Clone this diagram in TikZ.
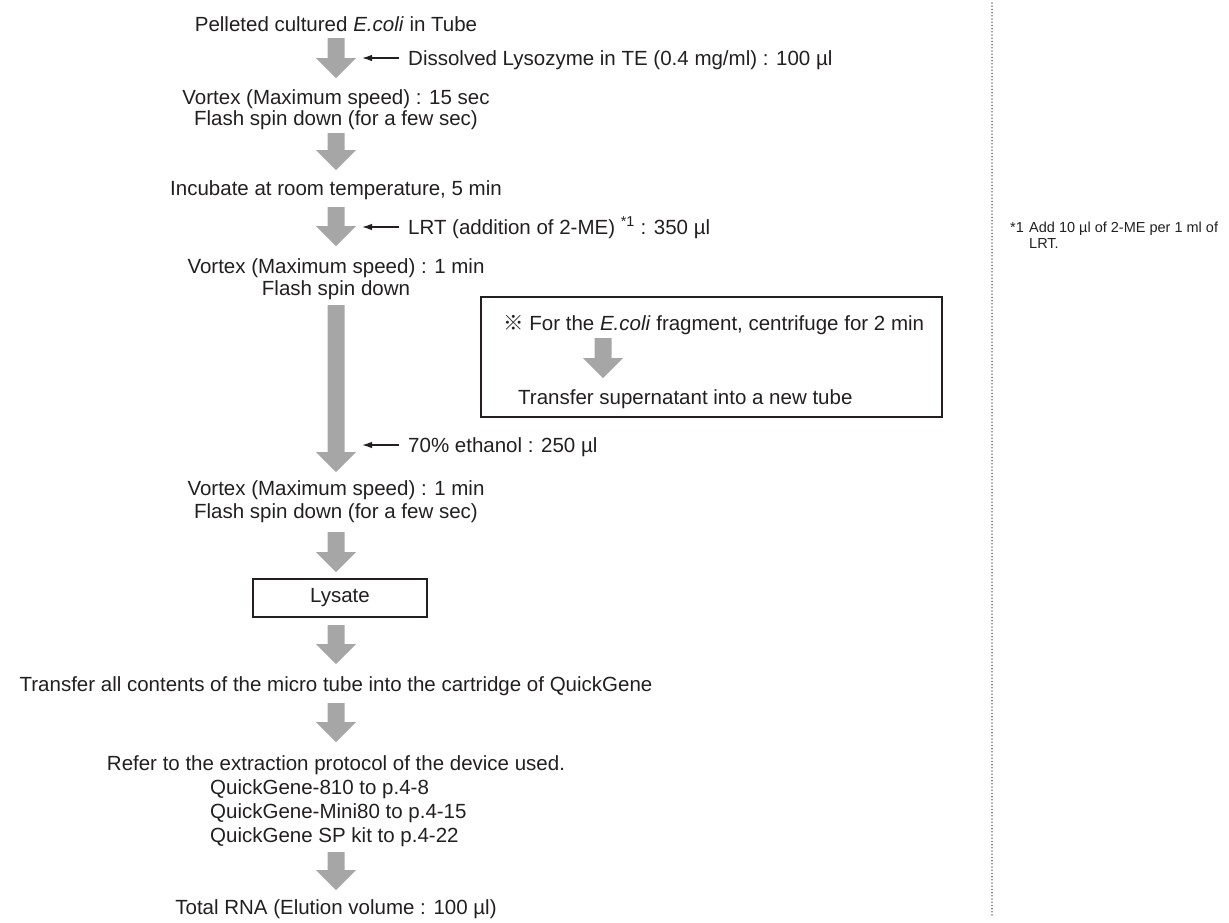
\documentclass[tikz,border=0pt]{standalone}
\usepackage{fontspec}
\setmainfont{Liberation Sans}
\newfontfamily\cjkfont{Noto Sans CJK JP}
\usetikzlibrary{arrows.meta,calc}
\definecolor{ink}{HTML}{231F20}
\definecolor{fatgray}{HTML}{A6A6A6}
\definecolor{dotgray}{HTML}{7A7A7A}
\newcommand\mainsz{\fontsize{20.5}{24.6}\selectfont}
\newcommand\notesz{\fontsize{14.5}{14}\selectfont}
\newcommand\fatarrow[2]{%
  \fill[fatgray] let \p1=(#1), \p2=(#2) in
    (\x1-8.5pt,\y1) -- (\x1+8.5pt,\y1) -- (\x1+8.5pt,\y2+20pt) -- (\x1+20pt,\y2+20pt)
    -- (\x2,\y2) -- (\x1-20pt,\y2+20pt) -- (\x1-8.5pt,\y2+20pt) -- cycle;}
\begin{document}
\begin{tikzpicture}[x=1pt,y=-1pt,
  txt/.style={inner sep=0pt, font=\mainsz, text=ink, text height=14.7pt, text depth=0pt},
  side/.style={txt, anchor=west},
  sidearr/.style={draw=ink, line width=1.3pt, -{Latex[length=10pt,width=6.5pt]}},
  note/.style={inner sep=0pt, font=\notesz, text=ink, text height=10.4pt, text depth=0pt, anchor=west},
  framebox/.style={draw=ink, line width=1.6pt, inner sep=0pt},
  lysbox/.style={draw=ink, line width=1.3pt, inner sep=0pt, font=\mainsz, text=ink},
  dotline/.style={draw=dotgray, line width=1.8pt, line cap=round, dash pattern=on 0pt off 3.2pt}]
\useasboundingbox (0,0) rectangle (1229,922);

% step 1
\node[txt] (t1) at (336,24) {Pelleted cultured \textit{E.coli} in Tube};
\coordinate (a1s) at (336,38); \coordinate (a1e) at (336,78);
\fatarrow{a1s}{a1e}
\node[side] (s1) at (408,58) {Dissolved Lysozyme in TE (0.4 mg/ml) : 100 µl};
\coordinate (s1h) at (362,58);
\draw[sidearr] ([xshift=-9pt]s1.west) -- (s1h);

\node[txt] (t2) at (336,97) {Vortex (Maximum speed) : 15 sec};
\node[txt] (t3) at (336,118) {Flash spin down (for a few sec)};
\coordinate (a2s) at (336,133); \coordinate (a2e) at (336,170);
\fatarrow{a2s}{a2e}

\node[txt] (t4) at (336,188) {Incubate at room temperature, 5 min};
\coordinate (a3s) at (336,207); \coordinate (a3e) at (336,246);
\fatarrow{a3s}{a3e}
\node[side] (s2) at (408,227) {LRT (addition of 2-ME) \textsuperscript{*1} : 350 µl};
\coordinate (s2h) at (362,227);
\draw[sidearr] ([xshift=-9pt]s2.west) -- (s2h);

\node[txt] (t5) at (336,266) {Vortex (Maximum speed) : 1 min};
\node[txt] (t6) at (336,288) {Flash spin down};
\coordinate (a4s) at (336,305); \coordinate (a4e) at (336,472);
\fatarrow{a4s}{a4e}
\node[side] (s3) at (408,445) {70\% ethanol : 250 µl};
\coordinate (s3h) at (362,445);
\draw[sidearr] ([xshift=-9pt]s3.west) -- (s3h);

% side box
\node[framebox, minimum width=461pt, minimum height=120pt] (bx) at (711.5,357) {};
\node[side] (b1) at (503,323) {{\cjkfont ※} For the \textit{E.coli} fragment, centrifuge for 2 min};
\coordinate (bas) at (603,338); \coordinate (bae) at (603,378);
\fatarrow{bas}{bae}
\node[side] (b2) at (518,397) {Transfer supernatant into a new tube};

\node[txt] (t7) at (336,488) {Vortex (Maximum speed) : 1 min};
\node[txt] (t8) at (336,511) {Flash spin down (for a few sec)};
\coordinate (a5s) at (336,532); \coordinate (a5e) at (336,572);
\fatarrow{a5s}{a5e}

\node[lysbox, minimum width=174pt, minimum height=38pt] (lys) at (340,598) {Lysate};
\coordinate (a6s) at (336,625); \coordinate (a6e) at (336,664);
\fatarrow{a6s}{a6e}

\node[txt] (t9) at (336,684) {Transfer all contents of the micro tube into the cartridge of QuickGene};
\coordinate (a7s) at (336,703); \coordinate (a7e) at (336,742);
\fatarrow{a7s}{a7e}

\node[txt] (t10) at (336,763) {Refer to the extraction protocol of the device used.};
\node[side] (q1) at (210,787) {QuickGene-810 to p.4-8};
\node[side] (q2) at (210,811) {QuickGene-Mini80 to p.4-15};
\node[side] (q3) at (210,835) {QuickGene SP kit to p.4-22};
\coordinate (a8s) at (336,852); \coordinate (a8e) at (336,890);
\fatarrow{a8s}{a8e}
\node[txt] (t11) at (336,907) {Total RNA (Elution volume : 100 µl)};

% dotted separator and footnote
\coordinate (d1) at (992,3); \coordinate (d2) at (992,918);
\draw[dotline] (d1) -- (d2);
\node[note] (f0) at (1010,227) {*1};
\node[note] (f1) at (1029,227) {Add 10 µl of 2-ME per 1 ml of};
\node[note] (f2) at (1029,243) {LRT.};
\end{tikzpicture}
\end{document}
